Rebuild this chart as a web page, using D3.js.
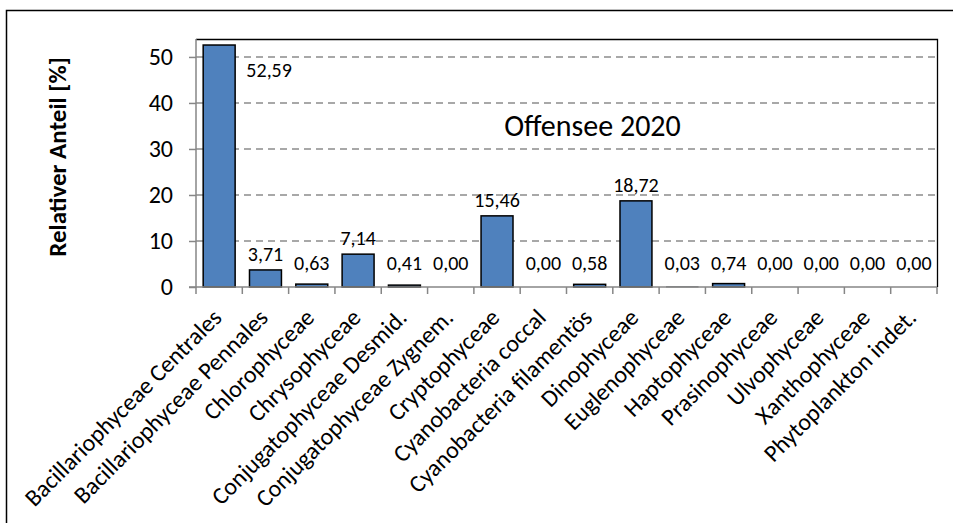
<!DOCTYPE html>
<html>
<head>
<meta charset="utf-8">
<script src="https://cdn.jsdelivr.net/npm/d3@7"></script>
<style>
  body { margin: 0; background: #fff; }
  svg { display: block; font-family: Carlito, Calibri, Lato, "Open Sans", sans-serif; }
</style>
</head>
<body>
<svg id="chart" width="953" height="523"></svg>
<script>
const categories = [
  "Bacillariophyceae Centrales", "Bacillariophyceae Pennales", "Chlorophyceae",
  "Chrysophyceae", "Conjugatophyceae Desmid.", "Conjugatophyceae Zygnem.",
  "Cryptophyceae", "Cyanobacteria coccal", "Cyanobacteria filamentös",
  "Dinophyceae", "Euglenophyceae", "Haptophyceae", "Prasinophyceae",
  "Ulvophyceae", "Xanthophyceae", "Phytoplankton indet."
];
const values = [52.59, 3.71, 0.63, 7.14, 0.41, 0.00, 15.46, 0.00, 0.58, 18.72, 0.03, 0.74, 0.00, 0.00, 0.00, 0.00];
const yTicks = [0, 10, 20, 30, 40, 50];
const chartTitle = "Offensee 2020";
const yTitle = "Relativer Anteil [%]";

const svg = d3.select("#chart");
const pLeft = 196, pRight = 937, pTop = 39, pBottom = 287;

// outer frame
svg.append("rect").attr("x", 6.5).attr("y", 10.5).attr("width", 960).attr("height", 520)
  .attr("fill", "none").attr("stroke", "#000").attr("stroke-width", 1.5);

const x = d3.scaleBand().domain(categories).range([pLeft, pRight]).paddingInner(0.31).paddingOuter(0.155);
const y = d3.scaleLinear().domain([0, 53.9]).range([pBottom, pTop]);

// gridlines
svg.append("g").selectAll("line").data(yTicks.filter(d => d > 0)).join("line")
  .attr("x1", pLeft).attr("x2", pRight)
  .attr("y1", d => y(d)).attr("y2", d => y(d))
  .attr("stroke", "#8c8c8c").attr("stroke-width", 1.5).attr("stroke-dasharray", "7,5");

// plot frame top/right
svg.append("path")
  .attr("d", `M${pLeft},${pTop + 0.5}H${pRight + 0.5}V${pBottom}`)
  .attr("fill", "none").attr("stroke", "#000").attr("stroke-width", 1.3);

// bars
svg.append("g").selectAll("rect").data(values).join("rect")
  .attr("x", (d, i) => x(categories[i]))
  .attr("width", x.bandwidth())
  .attr("y", d => y(d))
  .attr("height", d => y(0) - y(d))
  .attr("fill", "#4f81bd")
  .attr("stroke", d => d > 0 ? "#000" : "none")
  .attr("stroke-width", d => d < 0.1 ? 0.6 : 1.5);

// y axis
const yAxis = d3.axisLeft(y).tickValues(yTicks).tickSize(7).tickFormat(d3.format("d"));
const ga = svg.append("g").attr("transform", `translate(${pLeft},0)`).call(yAxis);
ga.select(".domain").attr("stroke", "#868686").attr("stroke-width", 1.5).attr("d", `M-7,${pBottom}H0V${pTop}`);
ga.selectAll(".tick line").attr("stroke", "#868686").attr("stroke-width", 1.5);
ga.selectAll(".tick text").attr("x", -23).attr("font-size", 24).attr("fill", "#000")
  .style("font-family", "Carlito, Calibri, Lato, sans-serif");

// x axis
const step = x.step();
const xb = svg.append("g");
xb.append("line").attr("x1", pLeft).attr("x2", pRight).attr("y1", pBottom).attr("y2", pBottom)
  .attr("stroke", "#868686").attr("stroke-width", 1.5);
const boundaries = d3.range(categories.length + 1).map(i => pLeft + i * step);
xb.selectAll(".xt").data(boundaries).join("line").attr("class", "xt")
  .attr("x1", d => d).attr("x2", d => d).attr("y1", pBottom).attr("y2", pBottom + 7)
  .attr("stroke", "#868686").attr("stroke-width", 1.5);
xb.selectAll("text").data(categories).join("text")
  .attr("transform", d => `translate(${x(d) + x.bandwidth() / 2 + 4},${pBottom + 32}) rotate(-45)`)
  .attr("text-anchor", "end")
  .attr("font-size", 24).attr("fill", "#000")
  .text(d => d);

// value labels
const fmt = d => d.toFixed(2).replace(".", ",");
svg.append("g").selectAll("text").data(values).join("text")
  .attr("x", (d, i) => i === 0 ? x(categories[i]) + x.bandwidth() + 34 : x(categories[i]) + x.bandwidth() / 2)
  .attr("y", (d, i) => i === 0 ? y(d) + 32 : Math.min(y(d) - 9, y(0) - 17))
  .attr("text-anchor", "middle").attr("font-size", 20).attr("fill", "#000")
  .text(fmt);

// chart title
svg.append("text").attr("x", (pLeft + pRight) / 2 + 26).attr("y", 136)
  .attr("text-anchor", "middle").attr("font-size", 30).attr("fill", "#000").text(chartTitle);

// y title
svg.append("text").attr("transform", `translate(66,157) rotate(-90)`)
  .attr("text-anchor", "middle").attr("font-size", 25).attr("font-weight", "bold").attr("fill", "#000")
  .text(yTitle);
</script>
</body>
</html>
